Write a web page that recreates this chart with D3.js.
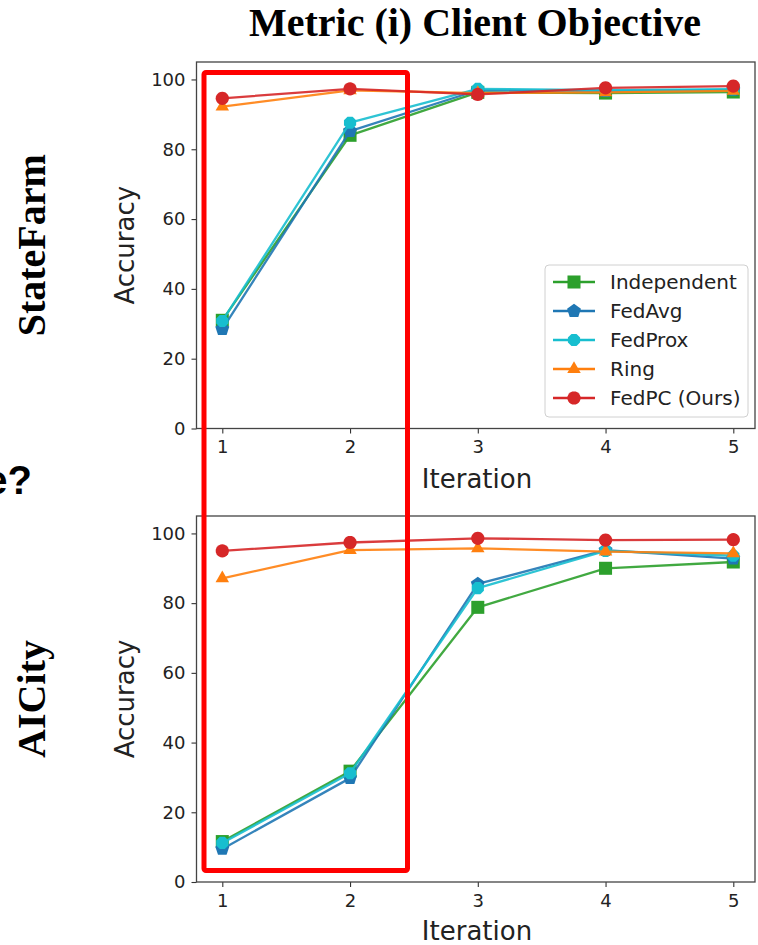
<!DOCTYPE html>
<html>
<head>
<meta charset="utf-8">
<script src="https://cdn.jsdelivr.net/npm/d3@7"></script>
<style>
  html, body { margin: 0; padding: 0; background: #fff; }
  svg { display: block; }
</style>
</head>
<body>
<svg id="chart" width="758" height="945"></svg>
<script>
// ---------------- DATA ----------------
const iterations = [1, 2, 3, 4, 5];
const seriesNames = ["Independent", "FedAvg", "FedProx", "Ring", "FedPC (Ours)"];
const seriesColors = ["#2ca02c", "#1f77b4", "#17becf", "#ff7f0e", "#d62728"];
const seriesMarkers = ["square", "pentagon", "octagon", "triangle", "circle"];
const yTicks = [0, 20, 40, 60, 80, 100];
const xTicks = [1, 2, 3, 4, 5];

// StateFarm panel
const sfIndependent = [31.0, 84.0, 96.3, 96.1, 96.4];
const sfFedAvg      = [28.5, 85.2, 96.9, 96.7, 97.0];
const sfFedProx     = [30.8, 87.6, 97.3, 96.9, 97.2];
const sfRing        = [92.2, 96.9, 96.1, 96.3, 96.7];
const sfFedPC       = [94.6, 97.3, 95.7, 97.6, 98.1];

// AICity panel
const acIndependent = [11.6, 31.8, 78.8, 90.0, 91.8];
const acFedAvg      = [9.5, 29.8, 85.5, 95.2, 92.8];
const acFedProx     = [11.2, 31.2, 84.3, 95.0, 93.6];
const acRing        = [87.1, 95.2, 95.7, 94.8, 94.3];
const acFedPC       = [95.0, 97.4, 98.6, 98.1, 98.2];

const titleText = "Metric (i) Client Objective";
const panelNames = ["StateFarm", "AICity"];
const panelData = [
  [sfIndependent, sfFedAvg, sfFedProx, sfRing, sfFedPC],
  [acIndependent, acFedAvg, acFedProx, acRing, acFedPC]
];

// ---------------- DRAW ----------------
const svg = d3.select("#chart");
const sans = "'DejaVu Sans', sans-serif";
const serif = "'Liberation Serif', 'Times New Roman', serif";

svg.append("text")
  .attr("x", 475).attr("y", 36)
  .attr("text-anchor", "middle")
  .attr("font-family", serif).attr("font-weight", "bold")
  .attr("font-size", 40).attr("fill", "#000")
  .text(titleText);

// partially visible text from the neighbouring figure
svg.append("text")
  .attr("x", 32).attr("y", 494)
  .attr("text-anchor", "end")
  .attr("font-family", "'Liberation Sans', Arial, sans-serif").attr("font-weight", "bold")
  .attr("font-size", 40).attr("fill", "#000")
  .text("e?");

function markerPath(type, size) {
  const poly = (n, r, rot) => {
    const pts = [];
    for (let i = 0; i < n; i++) {
      const a = rot + i * 2 * Math.PI / n;
      pts.push([r * Math.cos(a), r * Math.sin(a)]);
    }
    return "M" + pts.map(p => p[0].toFixed(2) + "," + p[1].toFixed(2)).join("L") + "Z";
  };
  switch (type) {
    case "square": return poly(4, size * 0.78, Math.PI / 4);
    case "pentagon": return poly(5, size * 0.62, -Math.PI / 2);
    case "octagon": return poly(8, size * 0.56, Math.PI / 8);
    case "triangle": return poly(3, size * 0.66, -Math.PI / 2);
    default: return poly(24, size * 0.56, 0);
  }
}
const markerSize = 11.8;

const panels = [
  { top: 62, bottom: 428.5, name: panelNames[0], legend: true, labelY: 488, tickY: 456 },
  { top: 516, bottom: 882, name: panelNames[1], legend: false, labelY: 940, tickY: 909 }
];
const left = 196.5, right = 755;

panels.forEach((p, pi) => {
  const x = d3.scaleLinear().domain([1, 5]).range([222.3, 733.3]);
  const y = d3.scaleLinear().domain([0, 105]).range([p.bottom, p.top]);
  const g = svg.append("g");

  // y axis
  const yAxis = d3.axisLeft(y).tickValues(yTicks).tickSize(5).tickPadding(6);
  const ya = g.append("g").attr("transform", `translate(${left},0)`).call(yAxis);
  ya.select(".domain").remove();
  ya.selectAll("line").attr("stroke", "#333").attr("stroke-width", 1.1);
  ya.selectAll("text").attr("font-family", sans).attr("font-size", 18).attr("fill", "#222");

  // x axis
  const xAxis = d3.axisBottom(x).tickValues(xTicks).tickFormat(d3.format("d")).tickSize(5).tickPadding(7);
  const xa = g.append("g").attr("transform", `translate(0,${p.bottom})`).call(xAxis);
  xa.select(".domain").remove();
  xa.selectAll("line").attr("stroke", "#333").attr("stroke-width", 1.1);
  xa.selectAll("text").attr("font-family", sans).attr("font-size", 18).attr("fill", "#222");

  // frame
  g.append("rect")
    .attr("x", left).attr("y", p.top)
    .attr("width", right - left).attr("height", p.bottom - p.top)
    .attr("fill", "none").attr("stroke", "#444").attr("stroke-width", 1.3);

  // axis labels
  g.append("text")
    .attr("x", 477).attr("y", p.labelY)
    .attr("text-anchor", "middle")
    .attr("font-family", sans).attr("font-size", 26).attr("fill", "#222")
    .text("Iteration");
  g.append("text")
    .attr("transform", `translate(134,${(p.top + p.bottom) / 2}) rotate(-90)`)
    .attr("text-anchor", "middle")
    .attr("font-family", sans).attr("font-size", 26).attr("fill", "#222")
    .text("Accuracy");

  // row label
  g.append("text")
    .attr("transform", `translate(45,${(p.top + p.bottom) / 2}) rotate(-90)`)
    .attr("text-anchor", "middle")
    .attr("font-family", serif).attr("font-weight", "bold")
    .attr("font-size", 40).attr("fill", "#000")
    .text(p.name);

  // series
  const line = d3.line().x((d, i) => x(iterations[i])).y(d => y(d));
  panelData[pi].forEach((vals, si) => {
    const c = seriesColors[si];
    g.append("path")
      .attr("d", line(vals))
      .attr("fill", "none").attr("stroke", c)
      .attr("stroke-width", 2.3).attr("stroke-opacity", 0.9)
      .attr("stroke-linejoin", "round");
    g.selectAll(null).data(vals).enter().append("path")
      .attr("transform", (d, i) => `translate(${x(iterations[i])},${y(d)})`)
      .attr("d", markerPath(seriesMarkers[si], markerSize))
      .attr("fill", c);
  });

  // legend
  if (p.legend) {
    const lg = g.append("g");
    lg.append("rect")
      .attr("x", 545).attr("y", 265).attr("width", 203).attr("height", 152)
      .attr("rx", 4)
      .attr("fill", "#fff").attr("fill-opacity", 0.85)
      .attr("stroke", "#d0d0d0").attr("stroke-width", 1);
    seriesNames.forEach((name, si) => {
      const ly = 282 + si * 29;
      lg.append("line")
        .attr("x1", 553).attr("x2", 595).attr("y1", ly).attr("y2", ly)
        .attr("stroke", seriesColors[si]).attr("stroke-width", 2.3);
      lg.append("path")
        .attr("transform", `translate(574,${ly})`)
        .attr("d", markerPath(seriesMarkers[si], markerSize))
        .attr("fill", seriesColors[si]);
      lg.append("text")
        .attr("x", 610).attr("y", ly + 7)
        .attr("font-family", sans).attr("font-size", 20).attr("fill", "#222")
        .text(name);
    });
  }
});

// red highlight box
svg.append("rect")
  .attr("x", 204).attr("y", 72.5).attr("width", 203.5).attr("height", 798)
  .attr("rx", 2)
  .attr("fill", "none").attr("stroke", "#ff0000").attr("stroke-width", 5);
</script>
</body>
</html>
